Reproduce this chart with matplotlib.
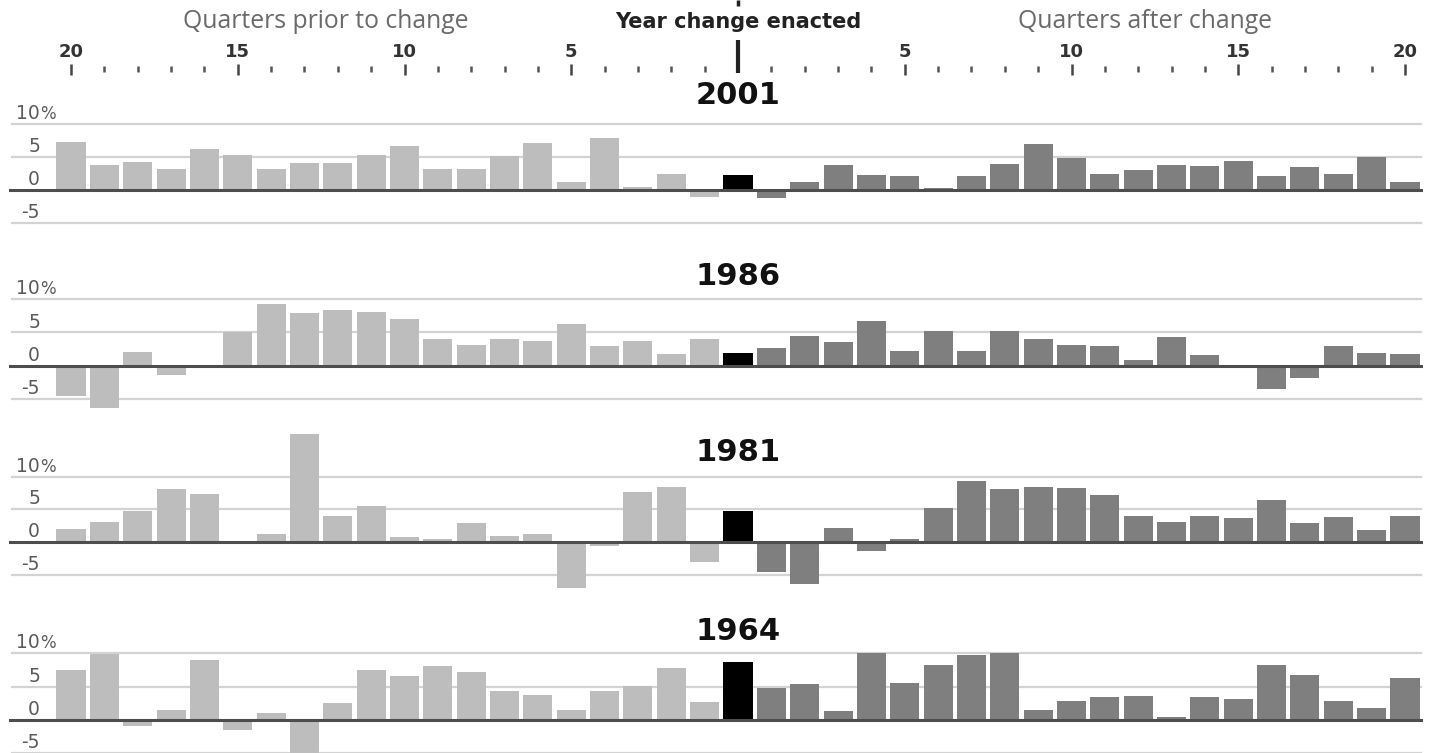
import numpy as np
import matplotlib.pyplot as plt

# growth (%) by quarter around the year the change was enacted
years = ["2001", "1986", "1981", "1964"]

g2001_before = [7.2, 3.75, 4.25, 3.1, 6.2, 5.2, 3.1, 4.0, 4.0, 5.3,
                6.65, 3.2, 3.2, 5.05, 7.05, 1.25, 7.75, 0.45, 2.35, -1.05]
g2001_enacted = 2.2
g2001_after = [-1.15, 1.2, 3.75, 2.25, 2.05, 0.35, 2.1, 3.85, 6.9, 4.85,
               2.35, 3.0, 3.75, 3.55, 4.3, 2.1, 3.45, 2.35, 4.95, 1.25]

g1986_before = [-4.5, -6.4, 2.1, -1.4, 0.1, 5.1, 9.25, 8.0, 8.4, 8.05,
                7.0, 3.95, 3.05, 3.95, 3.65, 6.3, 2.9, 3.65, 1.8, 3.95]
g1986_enacted = 1.95
g1986_after = [2.7, 4.45, 3.55, 6.7, 2.25, 5.3, 2.2, 5.3, 4.0, 3.1,
               2.9, 0.85, 4.35, 1.55, 0.0, -3.45, -1.9, 2.95, 1.85, 1.75]

g1981_before = [2.05, 3.0, 4.8, 8.1, 7.35, 0.0, 1.3, 16.6, 4.0, 5.45,
                0.7, 0.4, 2.85, 0.85, 1.2, -7.95, -0.6, 7.65, 8.45, -3.0]
g1981_enacted = 4.7
g1981_after = [-4.55, -6.5, 2.15, -1.45, 0.4, 5.25, 9.4, 8.05, 8.45, 8.2,
               7.2, 3.95, 3.05, 3.95, 3.6, 6.45, 2.9, 3.8, 1.85, 4.05]

g1964_before = [7.55, 9.85, -0.9, 1.55, 9.05, -1.45, 1.0, -6.0, 2.55, 7.45,
                6.65, 8.1, 7.25, 4.4, 3.75, 1.55, 4.4, 5.1, 7.85, 2.75]
g1964_enacted = 8.7
g1964_after = [4.8, 5.4, 1.3, 10.0, 5.5, 8.25, 9.75, 10.0, 1.55, 2.85,
               3.4, 3.65, 0.4, 3.4, 3.15, 8.3, 6.75, 2.85, 1.75, 6.35]

grid_vals = [10, 5, 0, -5]
grid_labels = ["10", "5", "0", "-5"]
quarters = np.arange(-20, 21)

W, H = 1431, 753
fig = plt.figure(figsize=(W / 100, H / 100), dpi=100)

px_q = 33.35  # pixels per quarter
xlo = -20 - 71 / px_q
xhi = 20 + (W - 1405) / px_q

light = "#bdbdbd"
dark = "#7f7f7f"
reg = "Open Sans"
bold = "DejaVu Sans"

# header axes in pixel units vertically
hdr = fig.add_axes([0, 1 - 80 / H, 1, 80 / H])
hdr.set_xlim(xlo, xhi)
hdr.set_ylim(80, 0)
hdr.axis("off")
hdr.text(-12.35, 21, "Quarters prior to change", ha="center", va="center",
         fontsize=17.8, color="#6a6a6a", family=reg)
hdr.text(0, 22, "Year change enacted", ha="center", va="center",
         fontsize=15, color="#222222", family=bold, weight="bold")
hdr.text(12.2, 21, "Quarters after change", ha="center", va="center",
         fontsize=17.8, color="#6a6a6a", family=reg)
hdr.vlines(0, 0, 6, color="#222222", lw=2.5)
hdr.vlines(0, 40, 73, color="#222222", lw=3)
for q in quarters:
    if q == 0:
        continue
    if abs(q) % 5 == 0:
        hdr.vlines(q, 64, 75, color="#444444", lw=1.8)
        hdr.text(q, 52, str(abs(q)), ha="center", va="center", fontsize=13,
                 color="#333333", family=bold, weight="bold")
    else:
        hdr.vlines(q, 66, 72, color="#555555", lw=1.8)

panels = [
    (years[0], g2001_before, g2001_enacted, g2001_after),
    (years[1], g1986_before, g1986_enacted, g1986_after),
    (years[2], g1981_before, g1981_enacted, g1981_after),
    (years[3], g1964_before, g1964_enacted, g1964_after),
]
# pixel rows: zero line, 10% line, title centre
rows = [(190.0, 123.5, 96), (365.7, 299.3, 277), (542.0, 476.7, 452), (720.0, 653.3, 631)]

for (title, before, enacted, after), (zero, ten, tpx) in zip(panels, rows):
    s = (zero - ten) / 10
    lo, hi = -7, 18
    ax = fig.add_axes([0, 1 - (zero - lo * s) / H, 1, (hi - lo) * s / H])
    ax.set_xlim(xlo, xhi)
    ax.set_ylim(lo, hi)
    ax.axis("off")
    ax.patch.set_alpha(0)

    vals = list(before) + [enacted] + list(after)
    colors = [light] * len(before) + ["black"] + [dark] * len(after)
    ax.bar(quarters, vals, width=0.87, color=colors, zorder=2)

    for g in grid_vals:
        if g == 0:
            ax.axhline(0, xmin=10 / W, xmax=1421 / W, color="#4d4d4d", lw=2.2, zorder=3)
        else:
            ax.axhline(g, xmin=12 / W, xmax=1421 / W, color="#d3d3d3", lw=1.6, zorder=1)
    tr = ax.get_yaxis_transform()
    for g, lab in zip(grid_vals, grid_labels):
        ax.text(40 / W, g + 0.15, lab, transform=tr, ha="right", va="bottom",
                fontsize=13.5, color="#5a5a5a", family="DejaVu Sans")
    ax.text(40 / W, 10.15, "%", transform=tr, ha="left", va="bottom",
            fontsize=12, color="#5a5a5a", family="DejaVu Sans")

    ax.text(0, (zero - tpx) / s, title, ha="center", va="center",
            fontsize=22, color="#111111", family=bold, weight="bold")

fig.savefig("out.png", dpi=100)
